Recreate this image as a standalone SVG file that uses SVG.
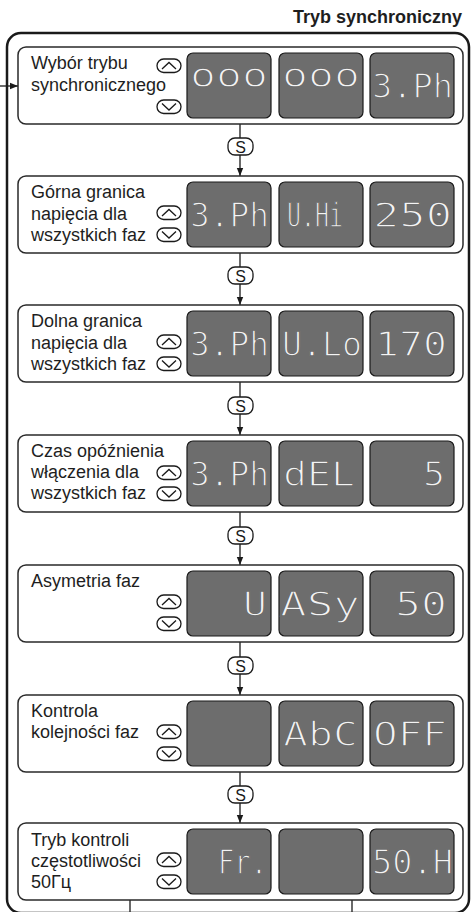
<svg xmlns="http://www.w3.org/2000/svg" width="471" height="912" viewBox="0 0 471 912">
<defs>
<style>
.frame{fill:none;stroke:#1a1a1a;stroke-width:2.5}
.panel{fill:#ffffff;stroke:#2a2a2a;stroke-width:1.5}
.disp{fill:#6d6d6d;stroke:#1a1a1a;stroke-width:1.2}
.seg{font-family:"DejaVu Sans Mono","Liberation Mono",monospace;font-size:34px;fill:#f4f4f4;stroke:#6d6d6d;stroke-width:1.4}
.lbl{font-family:"Liberation Sans",Arial,sans-serif;font-size:18px;fill:#1e1e1e}
.title{font-family:"Liberation Sans",Arial,sans-serif;font-size:18px;font-weight:bold;fill:#1e1e1e}
.btn{fill:#ffffff;stroke:#1a1a1a;stroke-width:1.3}
.chev{fill:none;stroke:#1a1a1a;stroke-width:1.3;stroke-linejoin:miter}
.line{fill:none;stroke:#1a1a1a;stroke-width:1.3}
.sbox{fill:#ffffff;stroke:#1a1a1a;stroke-width:1.3}
.s{font-family:"Liberation Sans",Arial,sans-serif;font-size:16px;fill:#1a1a1a;text-anchor:middle}
</style>
<marker id="ah" markerWidth="8" markerHeight="8" refX="8" refY="4" orient="auto" markerUnits="userSpaceOnUse">
<path d="M0,0.8 L8,4 L0,7.2 Z" fill="#1a1a1a"/>
</marker>
</defs>

<text class="title" x="462" y="23" text-anchor="end">Tryb synchroniczny</text>
<rect class="frame" x="7" y="33" width="462" height="880" rx="14"/>

<g id="connectors">
<line class="line" x1="0" y1="86" x2="18" y2="86" marker-end="url(#ah)"/>
<line class="line" x1="240" y1="124" x2="240" y2="176" marker-end="url(#ah)"/>
<rect class="sbox" x="228" y="138" width="25" height="17" rx="7"/><text class="s" x="240.5" y="152.5">S</text>
<line class="line" x1="240" y1="253" x2="240" y2="305" marker-end="url(#ah)"/>
<rect class="sbox" x="228" y="267" width="25" height="17" rx="7"/><text class="s" x="240.5" y="281.5">S</text>
<line class="line" x1="240" y1="382" x2="240" y2="435" marker-end="url(#ah)"/>
<rect class="sbox" x="228" y="397" width="25" height="17" rx="7"/><text class="s" x="240.5" y="411.5">S</text>
<line class="line" x1="240" y1="512" x2="240" y2="565" marker-end="url(#ah)"/>
<rect class="sbox" x="228" y="527" width="25" height="17" rx="7"/><text class="s" x="240.5" y="541.5">S</text>
<line class="line" x1="240" y1="642" x2="240" y2="695" marker-end="url(#ah)"/>
<rect class="sbox" x="228" y="657" width="25" height="17" rx="7"/><text class="s" x="240.5" y="671.5">S</text>
<line class="line" x1="240" y1="772" x2="240" y2="823" marker-end="url(#ah)"/>
<rect class="sbox" x="228" y="786" width="25" height="17" rx="7"/><text class="s" x="240.5" y="800.5">S</text>
<line class="line" x1="130" y1="900" x2="130" y2="913"/>
<line class="line" x1="352" y1="900" x2="352" y2="913"/>
</g>

<g id="panel1">
<rect class="panel" x="18" y="47" width="445" height="77" rx="8"/>
<text class="lbl" x="31" y="69">Wybór trybu</text>
<text class="lbl" x="31" y="91">synchronicznego</text>
<rect class="btn" x="157" y="59" width="24" height="13.5" rx="6.7"/><polyline class="chev" points="162,69 169,62.5 176,69"/>
<rect class="btn" x="157" y="100" width="24" height="13.5" rx="6.7"/><polyline class="chev" points="162,103.5 169,110 176,103.5"/>
<rect class="disp" x="187" y="53" width="84" height="65" rx="6"/>
<rect class="disp" x="279" y="53" width="84" height="65" rx="6"/>
<rect class="disp" x="370" y="53" width="84" height="65" rx="6"/>
<text class="seg" x="190" y="87" font-size="27" textLength="78" lengthAdjust="spacingAndGlyphs">ooo</text>
<text class="seg" x="282" y="87" font-size="27" textLength="78" lengthAdjust="spacingAndGlyphs">ooo</text>
<text class="seg" x="372" y="98" textLength="81" lengthAdjust="spacingAndGlyphs">3.Ph</text>
</g>

<g id="panel2">
<rect class="panel" x="18" y="176" width="445" height="77" rx="8"/>
<text class="lbl" x="31" y="198">Górna granica</text>
<text class="lbl" x="31" y="220">napięcia dla</text>
<text class="lbl" x="31" y="241">wszystkich faz</text>
<rect class="btn" x="157" y="206" width="24" height="13.5" rx="6.7"/><polyline class="chev" points="162,216 169,209.5 176,216"/>
<rect class="btn" x="157" y="228" width="24" height="13.5" rx="6.7"/><polyline class="chev" points="162,231.5 169,238 176,231.5"/>
<rect class="disp" x="187" y="182" width="84" height="65" rx="6"/>
<rect class="disp" x="279" y="182" width="84" height="65" rx="6"/>
<rect class="disp" x="370" y="182" width="84" height="65" rx="6"/>
<text class="seg" x="190" y="227" textLength="79" lengthAdjust="spacingAndGlyphs">3.Ph</text>
<text class="seg" x="287" y="227" textLength="56" lengthAdjust="spacingAndGlyphs">U.Hi</text>
<text class="seg" x="373" y="227" textLength="79" lengthAdjust="spacingAndGlyphs">250</text>
</g>

<g id="panel3">
<rect class="panel" x="18" y="305" width="445" height="77" rx="8"/>
<text class="lbl" x="31" y="327">Dolna granica</text>
<text class="lbl" x="31" y="349">napięcia dla</text>
<text class="lbl" x="31" y="370">wszystkich faz</text>
<rect class="btn" x="157" y="335" width="24" height="13.5" rx="6.7"/><polyline class="chev" points="162,345 169,338.5 176,345"/>
<rect class="btn" x="157" y="357" width="24" height="13.5" rx="6.7"/><polyline class="chev" points="162,360.5 169,367 176,360.5"/>
<rect class="disp" x="187" y="311" width="84" height="65" rx="6"/>
<rect class="disp" x="279" y="311" width="84" height="65" rx="6"/>
<rect class="disp" x="370" y="311" width="84" height="65" rx="6"/>
<text class="seg" x="190" y="356" textLength="79" lengthAdjust="spacingAndGlyphs">3.Ph</text>
<text class="seg" x="282" y="356" textLength="80" lengthAdjust="spacingAndGlyphs">U.Lo</text>
<text class="seg" x="375" y="356" textLength="72" lengthAdjust="spacingAndGlyphs">170</text>
</g>

<g id="panel4">
<rect class="panel" x="18" y="435" width="445" height="77" rx="8"/>
<text class="lbl" x="31" y="457">Czas opóźnienia</text>
<text class="lbl" x="31" y="478">włączenia dla</text>
<text class="lbl" x="31" y="499">wszystkich faz</text>
<rect class="btn" x="157" y="466" width="24" height="13.5" rx="6.7"/><polyline class="chev" points="162,476 169,469.5 176,476"/>
<rect class="btn" x="157" y="487" width="24" height="13.5" rx="6.7"/><polyline class="chev" points="162,490.5 169,497 176,490.5"/>
<rect class="disp" x="187" y="441" width="84" height="65" rx="6"/>
<rect class="disp" x="279" y="441" width="84" height="65" rx="6"/>
<rect class="disp" x="370" y="441" width="84" height="65" rx="6"/>
<text class="seg" x="190" y="486" textLength="79" lengthAdjust="spacingAndGlyphs">3.Ph</text>
<text class="seg" x="283" y="486" textLength="72" lengthAdjust="spacingAndGlyphs">dEL</text>
<text class="seg" x="423" y="486" textLength="22" lengthAdjust="spacingAndGlyphs">5</text>
</g>

<g id="panel5">
<rect class="panel" x="18" y="565" width="445" height="77" rx="8"/>
<text class="lbl" x="31" y="587">Asymetria faz</text>
<rect class="btn" x="157" y="595" width="24" height="13.5" rx="6.7"/><polyline class="chev" points="162,605 169,598.5 176,605"/>
<rect class="btn" x="157" y="617" width="24" height="13.5" rx="6.7"/><polyline class="chev" points="162,620.5 169,627 176,620.5"/>
<rect class="disp" x="187" y="571" width="84" height="65" rx="6"/>
<rect class="disp" x="279" y="571" width="84" height="65" rx="6"/>
<rect class="disp" x="370" y="571" width="84" height="65" rx="6"/>
<text class="seg" x="243" y="616" textLength="24" lengthAdjust="spacingAndGlyphs">U</text>
<text class="seg" x="280" y="616" textLength="80" lengthAdjust="spacingAndGlyphs">ASy</text>
<text class="seg" x="395" y="616" textLength="52" lengthAdjust="spacingAndGlyphs">50</text>
</g>

<g id="panel6">
<rect class="panel" x="18" y="695" width="445" height="77" rx="8"/>
<text class="lbl" x="31" y="717">Kontrola</text>
<text class="lbl" x="31" y="738">kolejności faz</text>
<rect class="btn" x="157" y="725" width="24" height="13.5" rx="6.7"/><polyline class="chev" points="162,735 169,728.5 176,735"/>
<rect class="btn" x="157" y="747" width="24" height="13.5" rx="6.7"/><polyline class="chev" points="162,750.5 169,757 176,750.5"/>
<rect class="disp" x="187" y="701" width="84" height="65" rx="6"/>
<rect class="disp" x="279" y="701" width="84" height="65" rx="6"/>
<rect class="disp" x="370" y="701" width="84" height="65" rx="6"/>
<text class="seg" x="283" y="746" textLength="75" lengthAdjust="spacingAndGlyphs">AbC</text>
<text class="seg" x="373" y="746" textLength="74" lengthAdjust="spacingAndGlyphs">OFF</text>
</g>

<g id="panel7">
<rect class="panel" x="18" y="823" width="445" height="77" rx="8"/>
<text class="lbl" x="31" y="846">Tryb kontroli</text>
<text class="lbl" x="31" y="867">częstotliwości</text>
<text class="lbl" x="31" y="888">50Гц</text>
<rect class="btn" x="157" y="853" width="24" height="13.5" rx="6.7"/><polyline class="chev" points="162,863 169,856.5 176,863"/>
<rect class="btn" x="157" y="875" width="24" height="13.5" rx="6.7"/><polyline class="chev" points="162,878.5 169,885 176,878.5"/>
<rect class="disp" x="187" y="829" width="84" height="65" rx="6"/>
<rect class="disp" x="279" y="829" width="84" height="65" rx="6"/>
<rect class="disp" x="370" y="829" width="84" height="65" rx="6"/>
<text class="seg" x="218" y="874" textLength="49" lengthAdjust="spacingAndGlyphs">Fr.</text>
<text class="seg" x="372" y="874" textLength="81" lengthAdjust="spacingAndGlyphs">50.H</text>
</g>
</svg>
